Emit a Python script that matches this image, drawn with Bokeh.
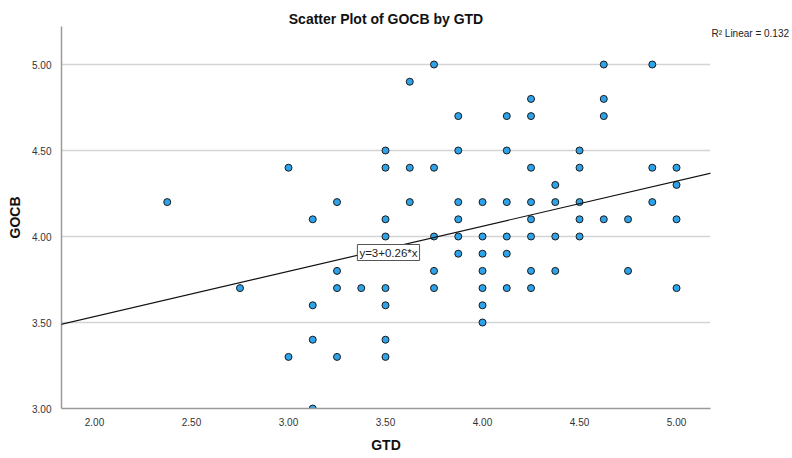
from bokeh.plotting import figure
from bokeh.models import Range1d, FixedTicker, NumeralTickFormatter, Label, Slope
from bokeh.embed import file_html
from bokeh.resources import INLINE

# ---- data ----
gtd = [2.375,
       2.75,
       3.0, 3.0,
       3.125, 3.125, 3.125, 3.125,
       3.25, 3.25, 3.25, 3.25,
       3.375,
       3.5, 3.5, 3.5, 3.5, 3.5, 3.5, 3.5, 3.5,
       3.625, 3.625, 3.625,
       3.75, 3.75, 3.75, 3.75, 3.75,
       3.875, 3.875, 3.875, 3.875, 3.875, 3.875,
       4.0, 4.0, 4.0, 4.0, 4.0, 4.0, 4.0,
       4.125, 4.125, 4.125, 4.125, 4.125, 4.125,
       4.25, 4.25, 4.25, 4.25, 4.25, 4.25, 4.25, 4.25,
       4.375, 4.375, 4.375, 4.375,
       4.5, 4.5, 4.5, 4.5, 4.5,
       4.625, 4.625, 4.625, 4.625,
       4.75, 4.75,
       4.875, 4.875, 4.875,
       5.0, 5.0, 5.0, 5.0]
gocb = [4.2,
        3.7,
        4.4, 3.3,
        4.1, 3.6, 3.4, 3.0,
        4.2, 3.8, 3.7, 3.3,
        3.7,
        4.5, 4.4, 4.1, 4.0, 3.7, 3.6, 3.4, 3.3,
        4.9, 4.4, 4.2,
        5.0, 4.4, 4.0, 3.8, 3.7,
        4.7, 4.5, 4.2, 4.1, 4.0, 3.9,
        4.2, 4.0, 3.9, 3.8, 3.7, 3.6, 3.5,
        4.7, 4.5, 4.2, 4.0, 3.9, 3.7,
        4.8, 4.7, 4.4, 4.2, 4.1, 4.0, 3.8, 3.7,
        4.3, 4.2, 4.0, 3.8,
        4.5, 4.4, 4.2, 4.1, 4.0,
        5.0, 4.8, 4.7, 4.1,
        4.1, 3.8,
        5.0, 4.4, 4.2,
        4.4, 4.3, 4.1, 3.7]
x_ticks = [2.0, 2.5, 3.0, 3.5, 4.0, 4.5, 5.0]
y_ticks = [3.0, 3.5, 4.0, 4.5, 5.0]
fit_intercept = 3.01
fit_slope = 0.2625
title_text = "Scatter Plot of GOCB by GTD"
x_label = "GTD"
y_label = "GOCB"
r2_text = "R² Linear = 0.132"
eq_text = "y=3+0.26*x"

FONT = "Liberation Sans"

p = figure(width=792, height=458, output_backend="svg", toolbar_location=None,
           x_range=Range1d(1.83, 5.175), y_range=Range1d(3.0, 5.221),
           min_border_left=61, min_border_right=82, min_border_top=26,
           min_border_bottom=50, background_fill_color="white",
           border_fill_color="white")
p.outline_line_color = None

p.title.text = title_text
p.title.align = "center"
p.title.text_font = FONT
p.title.text_font_size = "14px"
p.title.text_font_style = "bold"
p.title.text_color = "#111111"
p.title.standoff = 0
p.title.offset = 0

for ax in (p.xaxis[0], p.yaxis[0]):
    ax.axis_line_color = "#9a9a9a"
    ax.axis_line_width = 1.5
    ax.major_tick_line_color = None
    ax.minor_tick_line_color = None
    ax.major_label_text_font = FONT
    ax.major_label_text_font_size = "10px"
    ax.major_label_text_color = "#333333"
    ax.axis_label_text_font = FONT
    ax.axis_label_text_font_size = "14px"
    ax.axis_label_text_font_style = "bold"
    ax.axis_label_text_color = "#111111"
    ax.formatter = NumeralTickFormatter(format="0.00")

p.xaxis[0].ticker = FixedTicker(ticks=x_ticks)
p.yaxis[0].ticker = FixedTicker(ticks=y_ticks)
p.xaxis[0].axis_label = x_label
p.yaxis[0].axis_label = y_label
p.xaxis[0].major_label_standoff = 3
p.xaxis[0].axis_label_standoff = 8
p.yaxis[0].major_label_standoff = 4
p.yaxis[0].axis_label_standoff = 6

p.xgrid.visible = False
p.ygrid.ticker = FixedTicker(ticks=y_ticks)
p.ygrid.grid_line_color = "#d4d4d4"
p.ygrid.grid_line_width = 1.5

p.scatter(gtd, gocb, size=7, marker="circle", fill_color="#2ea3ea",
          line_color="#1a1a1a", line_width=1)

p.add_layout(Slope(gradient=fit_slope, y_intercept=fit_intercept,
                   line_color="#111111", line_width=1.2))

p.add_layout(Label(x=3.355, y=3.907, text=eq_text, text_font=FONT,
                   text_font_size="11.5px", text_color="#222222",
                   text_baseline="middle", text_align="left",
                   background_fill_color="white", border_line_color="#555555",
                   border_line_width=1, padding=2))

p.add_layout(Label(x=1, y=375, x_units="screen", y_units="screen",
                   text=r2_text, text_font=FONT,
                   text_font_size="10px", text_color="#222222",
                   text_baseline="middle", text_align="left"), "right")

open("out.html", "w").write(file_html(p, INLINE))
